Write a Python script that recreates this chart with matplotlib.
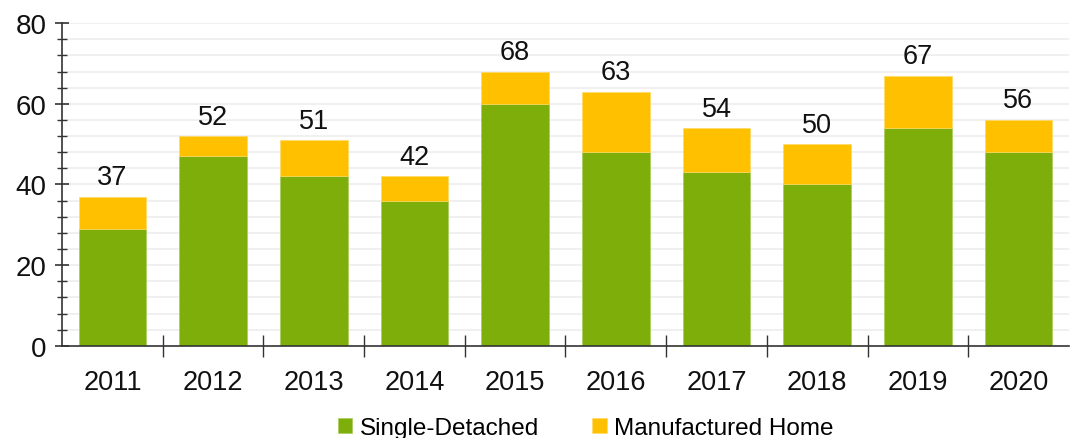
import numpy as np
import matplotlib
matplotlib.use("Agg")
import matplotlib.pyplot as plt
from matplotlib.ticker import MultipleLocator

plt.rcParams["font.family"] = ["Liberation Sans", "DejaVu Sans"]

years = ["2011", "2012", "2013", "2014", "2015", "2016", "2017", "2018", "2019", "2020"]
single_detached = [29, 47, 42, 36, 60, 48, 43, 40, 54, 48]
manufactured = [8, 5, 9, 6, 8, 15, 11, 10, 13, 8]
totals = [37, 52, 51, 42, 68, 63, 54, 50, 67, 56]

GREEN = "#7DAE0A"
YELLOW = "#FFC000"

fig = plt.figure(figsize=(10.71, 4.39), dpi=100)
ax = fig.add_axes([0.058, 0.21, 0.94, 0.735])
x = np.arange(len(years))
w = 0.67
ax.bar(x, single_detached, w, color=GREEN, edgecolor="#A8CC5A", linewidth=0.5,
       label="Single-Detached", zorder=2)
ax.bar(x, manufactured, w, bottom=single_detached, color=YELLOW, edgecolor="#FFD966",
       linewidth=0.5, label="Manufactured Home", zorder=2)
for xi, t in zip(x, totals):
    ax.text(xi, t + 1.6, str(t), ha="center", va="bottom", fontsize=19.5, color="#111")

ax.set_xlim(-0.5, len(years) - 0.5)
ax.set_ylim(0, 80)
ax.yaxis.set_major_locator(MultipleLocator(20))
ax.yaxis.set_minor_locator(MultipleLocator(4))
for yy in np.arange(4, 81, 4):
    ax.axhline(yy, color="#EDEDED", lw=1.2, zorder=0)
ax.tick_params(axis="y", which="major", direction="inout", length=10, width=1.2,
               labelsize=20, colors="#333", labelcolor="#111", pad=6)
ax.tick_params(axis="y", which="minor", direction="inout", length=7, width=1, colors="#333")
ax.set_xticks(x)
ax.set_xticklabels(years)
ax.set_xticks(np.arange(0.5, len(years) - 0.5, 1), minor=True)
ax.tick_params(axis="x", which="major", length=0, labelsize=19.5, pad=17, labelcolor="#111")
ax.tick_params(axis="x", which="minor", direction="inout", length=16, width=1, colors="#333")
for s in ["top", "right"]:
    ax.spines[s].set_visible(False)
ax.spines["left"].set_color("#333")
ax.spines["bottom"].set_color("#333")
ax.spines["left"].set_linewidth(1.2)
ax.spines["bottom"].set_linewidth(1.2)

h, l = ax.get_legend_handles_labels()
fig.legend(h, l, loc="center", bbox_to_anchor=(0.547, 0.022), ncol=2, frameon=False,
           fontsize=17.5, handlelength=0.6, handleheight=0.6, handletextpad=0.3,
           columnspacing=2.2, borderaxespad=0, borderpad=0)
fig.savefig("out.png", dpi=100, facecolor="white")
